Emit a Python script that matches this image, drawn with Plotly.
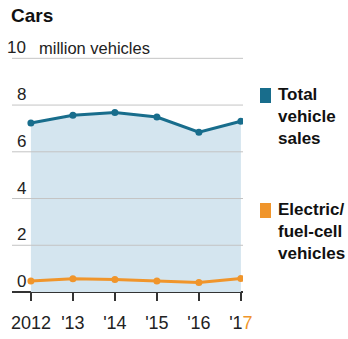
import plotly.graph_objects as go

years = [2012, 2013, 2014, 2015, 2016, 2017]
year_labels = ["2012", "'13", "'14", "'15", "'16", "'1<span style='color:#f0952b'>7</span>"]
total_sales = [7.23, 7.56, 7.68, 7.49, 6.84, 7.31]
electric_sales = [0.47, 0.57, 0.54, 0.47, 0.41, 0.58]
y_ticks = [0, 2, 4, 6, 8, 10]

BLUE = "#186d8c"
ORANGE = "#f0952b"
FILL = "#d4e5ef"
FONT = "Liberation Sans Narrow, Arial Narrow, Liberation Sans, sans-serif"

# Plot area in pixels: x 12..243, y 56..292
PLOT_L, PLOT_R, PLOT_T, PLOT_B = 12, 243, 56, 292
W, H = PLOT_R - PLOT_L, PLOT_B - PLOT_T


def px_x(p):
    return (p - PLOT_L) / W


def px_y(p):
    return (PLOT_B - p) / H


fig = go.Figure()
fig.add_trace(go.Scatter(
    x=years, y=total_sales, mode="lines+markers",
    line=dict(color=BLUE, width=3), marker=dict(color=BLUE, size=7),
    fill="tozeroy", fillcolor=FILL, showlegend=False, hoverinfo="skip"))
fig.add_trace(go.Scatter(
    x=years, y=electric_sales, mode="lines+markers",
    line=dict(color=ORANGE, width=3), marker=dict(color=ORANGE, size=7),
    showlegend=False, hoverinfo="skip"))

fig.update_layout(
    width=348, height=339,
    margin=dict(l=PLOT_L, r=348 - PLOT_R, t=PLOT_T, b=339 - PLOT_B),
    paper_bgcolor="white", plot_bgcolor="rgba(0,0,0,0)",
    font=dict(family=FONT, size=17, color="#222"),
    xaxis=dict(range=[2011.55, 2017.05], tickvals=years, ticktext=year_labels,
               showgrid=False, zeroline=False, showline=False, automargin=False,
               ticks="outside", ticklen=8, tickcolor="#333", tickwidth=1.5,
               ticklabelstandoff=6,
               tickfont=dict(size=18, family=FONT, color="#222"), fixedrange=True),
    yaxis=dict(range=[0, 10.1], tickvals=y_ticks, showticklabels=False,
               showgrid=False, zeroline=True, zerolinecolor="#333", zerolinewidth=2,
               showline=False, automargin=False, fixedrange=True),
)

# Horizontal gridlines drawn over the shaded area, plus their labels
for v in y_ticks:
    if v > 0:
        fig.add_shape(type="line", xref="paper", yref="y", x0=0, x1=1, y0=v, y1=v,
                      line=dict(color="#c4c4c4", width=1), layer="above")
    fig.add_annotation(x=px_x(28), xref="paper", y=v, yref="y", text=str(v),
                       showarrow=False, xanchor="right", yanchor="bottom",
                       yshift=-1, font=dict(size=17, family=FONT, color="#222"))
fig.add_annotation(x=px_x(37), xref="paper", y=10, yref="y", text="million vehicles",
                   showarrow=False, xanchor="left", yanchor="bottom", yshift=-1,
                   font=dict(size=16.5, family=FONT, color="#222"))

# Title
fig.add_annotation(x=px_x(9), xref="paper", y=px_y(3), yref="paper", text="<b>Cars</b>",
                   showarrow=False, xanchor="left", yanchor="top",
                   font=dict(size=19, family=FONT, color="#111"))

# Legend: coloured squares with bold labels
legend_items = [
    (BLUE, 88, "Total<br>vehicle<br>sales"),
    (ORANGE, 203, "Electric/<br>fuel-cell<br>vehicles"),
]
for color, top, label in legend_items:
    fig.add_shape(type="rect", xref="paper", yref="paper",
                  x0=px_x(260), x1=px_x(271), y0=px_y(top + 15), y1=px_y(top),
                  fillcolor=color, line=dict(width=0))
    fig.add_annotation(x=px_x(276), xref="paper", y=px_y(top - 5), yref="paper",
                       text="<b>" + label + "</b>", showarrow=False,
                       xanchor="left", yanchor="top", align="left",
                       font=dict(size=17, family=FONT, color="#111"))

fig.write_html("out.html")
